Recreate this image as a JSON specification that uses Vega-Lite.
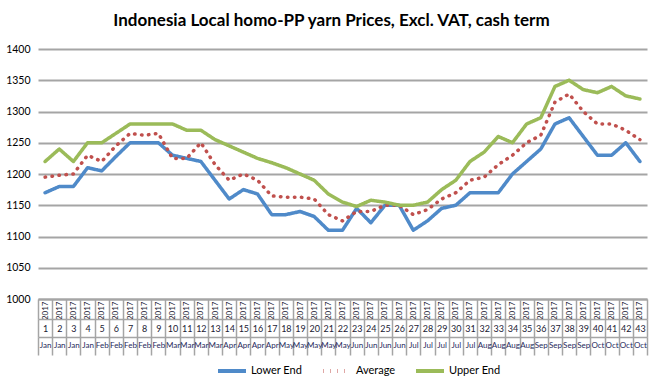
{
  "$schema": "https://vega.github.io/schema/vega-lite/v6.json",
  "width": 609,
  "height": 250,
  "autosize": {"type": "none"},
  "padding": {"left": 38, "top": 49, "right": 17, "bottom": 91},
  "background": "white",
  "config": {"view": {"stroke": null}, "font": "Lato"},
  "title": {
    "text": "Indonesia Local homo-PP yarn Prices, Excl. VAT, cash term",
    "font": "Lato",
    "fontSize": 17,
    "fontWeight": "bold",
    "color": "#000000",
    "anchor": "middle",
    "offset": 14,
    "dx": -11
  },
  "data": {
    "values": [
      {"week": 1, "Lower End": 1170, "Average": 1195, "Upper End": 1220},
      {"week": 2, "Lower End": 1180, "Average": 1198, "Upper End": 1240},
      {"week": 3, "Lower End": 1180, "Average": 1200, "Upper End": 1220},
      {"week": 4, "Lower End": 1210, "Average": 1230, "Upper End": 1250},
      {"week": 5, "Lower End": 1205, "Average": 1220, "Upper End": 1250},
      {"week": 6, "Lower End": 1228, "Average": 1245, "Upper End": 1265},
      {"week": 7, "Lower End": 1250, "Average": 1265, "Upper End": 1280},
      {"week": 8, "Lower End": 1250, "Average": 1262, "Upper End": 1280},
      {"week": 9, "Lower End": 1250, "Average": 1265, "Upper End": 1280},
      {"week": 10, "Lower End": 1230, "Average": 1225, "Upper End": 1280},
      {"week": 11, "Lower End": 1225, "Average": 1225, "Upper End": 1270},
      {"week": 12, "Lower End": 1220, "Average": 1250, "Upper End": 1270},
      {"week": 13, "Lower End": 1190, "Average": 1215, "Upper End": 1255},
      {"week": 14, "Lower End": 1160, "Average": 1190, "Upper End": 1245},
      {"week": 15, "Lower End": 1175, "Average": 1200, "Upper End": 1235},
      {"week": 16, "Lower End": 1168, "Average": 1190, "Upper End": 1225},
      {"week": 17, "Lower End": 1135, "Average": 1165, "Upper End": 1218},
      {"week": 18, "Lower End": 1135, "Average": 1163, "Upper End": 1210},
      {"week": 19, "Lower End": 1140, "Average": 1163, "Upper End": 1200},
      {"week": 20, "Lower End": 1132, "Average": 1160, "Upper End": 1190},
      {"week": 21, "Lower End": 1110, "Average": 1135, "Upper End": 1168},
      {"week": 22, "Lower End": 1110, "Average": 1125, "Upper End": 1155},
      {"week": 23, "Lower End": 1145, "Average": 1140, "Upper End": 1148},
      {"week": 24, "Lower End": 1122, "Average": 1140, "Upper End": 1158},
      {"week": 25, "Lower End": 1150, "Average": 1150, "Upper End": 1155},
      {"week": 26, "Lower End": 1150, "Average": 1150, "Upper End": 1150},
      {"week": 27, "Lower End": 1110, "Average": 1135, "Upper End": 1150},
      {"week": 28, "Lower End": 1125, "Average": 1143, "Upper End": 1155},
      {"week": 29, "Lower End": 1145, "Average": 1160, "Upper End": 1175},
      {"week": 30, "Lower End": 1150, "Average": 1170, "Upper End": 1190},
      {"week": 31, "Lower End": 1170, "Average": 1190, "Upper End": 1220},
      {"week": 32, "Lower End": 1170, "Average": 1195, "Upper End": 1235},
      {"week": 33, "Lower End": 1170, "Average": 1215, "Upper End": 1260},
      {"week": 34, "Lower End": 1200, "Average": 1230, "Upper End": 1250},
      {"week": 35, "Lower End": 1220, "Average": 1250, "Upper End": 1280},
      {"week": 36, "Lower End": 1240, "Average": 1262, "Upper End": 1290},
      {"week": 37, "Lower End": 1280, "Average": 1315, "Upper End": 1340},
      {"week": 38, "Lower End": 1290, "Average": 1328, "Upper End": 1350},
      {"week": 39, "Lower End": 1260, "Average": 1300, "Upper End": 1335},
      {"week": 40, "Lower End": 1230, "Average": 1280, "Upper End": 1330},
      {"week": 41, "Lower End": 1230, "Average": 1280, "Upper End": 1340},
      {"week": 42, "Lower End": 1250, "Average": 1270, "Upper End": 1325},
      {"week": 43, "Lower End": 1220, "Average": 1255, "Upper End": 1320}
    ]
  },
  "transform": [
    {"fold": ["Lower End", "Average", "Upper End"], "as": ["series", "value"]}
  ],
  "resolve": {"axis": {"x": "independent"}},
  "layer": [
    {
      "mark": {"type": "line", "strokeWidth": 3.5, "strokeCap": "round", "strokeJoin": "round"},
      "encoding": {
        "x": {
          "field": "week", "type": "ordinal", "bandPosition": 0.5,
          "scale": {"type": "band", "paddingInner": 0, "paddingOuter": 0},
          "axis": {
            "orient": "bottom", "title": null, "offset": 0,
            "domainColor": "#a5a5a5", "domainWidth": 2,
            "tickBand": "extent", "tickColor": "#a5a5a5", "tickWidth": 1.5, "tickSize": 20,
            "labelExpr": "isNumber(datum.value) && datum.value > 0 ? '2017' : ''", "labelAngle": -90, "labelAlign": "right", "labelBaseline": "middle",
            "labelPadding": -18, "labelFontSize": 8, "labelColor": "#1a1a33", "labelFont": "Lato"
          }
        },
        "y": {
          "field": "value", "type": "quantitative",
          "scale": {"domain": [1000, 1400], "nice": false, "zero": false},
          "axis": {
            "title": null, "values": [1000, 1050, 1100, 1150, 1200, 1250, 1300, 1350, 1400], "format": "d",
            "domain": false, "ticks": false, "gridColor": "#a5a5a5", "gridWidth": 2,
            "labelFontSize": 10.5, "labelColor": "#000000", "labelPadding": 8, "labelFont": "Lato"
          }
        },
        "color": {
          "field": "series", "type": "nominal",
          "scale": {"domain": ["Lower End", "Average", "Upper End"], "range": ["#4f8ac9", "#c0504d", "#9bbb59"]},
          "legend": {
            "title": null, "orient": "none", "direction": "horizontal",
            "legendX": 178, "legendY": 306,
            "symbolType": "stroke", "symbolSize": 784, "symbolStrokeWidth": 4,
            "labelFontSize": 11, "labelFont": "Lato", "labelColor": "#000000",
            "labelOffset": 3, "columnPadding": 12
          }
        },
        "strokeDash": {
          "field": "series", "type": "nominal",
          "scale": {"domain": ["Lower End", "Average", "Upper End"], "range": [[1, 0], [0.5, 6.5], [1, 0]]},
          "legend": {
            "title": null, "orient": "none", "direction": "horizontal",
            "legendX": 178, "legendY": 306,
            "symbolType": "stroke", "symbolSize": 784, "symbolStrokeWidth": 4,
            "labelFontSize": 11, "labelFont": "Lato", "labelColor": "#000000",
            "labelOffset": 3, "columnPadding": 12
          }
        },
        "order": {"field": "week", "type": "ordinal"}
      }
    },
    {
      "mark": {"type": "rule", "opacity": 0},
      "encoding": {
        "x": {
          "field": "week", "type": "ordinal", "bandPosition": 0.5,
          "axis": {
            "orient": "bottom", "title": null, "offset": 20,
            "domainColor": "#a5a5a5", "domainWidth": 1.5,
            "tickBand": "extent", "tickColor": "#a5a5a5", "tickWidth": 1.5, "tickSize": 18,
            "labelPadding": -13, "labelFontSize": 9, "labelColor": "#1a1a33", "labelFont": "Lato", "labelAngle": 0
          }
        }
      }
    },
    {
      "mark": {"type": "rule", "opacity": 0},
      "encoding": {
        "x": {
          "field": "week", "type": "ordinal", "bandPosition": 0.5,
          "axis": {
            "orient": "bottom", "title": null, "offset": 38,
            "domainColor": "#a5a5a5", "domainWidth": 1.5,
            "tickBand": "extent", "tickColor": "#a5a5a5", "tickWidth": 1.5, "tickSize": 18,
            "labelExpr": "['Jan','Jan','Jan','Jan','Feb','Feb','Feb','Feb','Feb','Mar','Mar','Mar','Mar','Apr','Apr','Apr','Apr','May','May','May','May','May','Jun','Jun','Jun','Jun','Jul','Jul','Jul','Jul','Jul','Aug','Aug','Aug','Aug','Sep','Sep','Sep','Sep','Oct','Oct','Oct','Oct'][datum.value - 1]",
            "labelPadding": -14, "labelFontSize": 8, "labelColor": "#1f2a5c", "labelFont": "Lato", "labelAngle": 0
          }
        }
      }
    }
  ]
}
